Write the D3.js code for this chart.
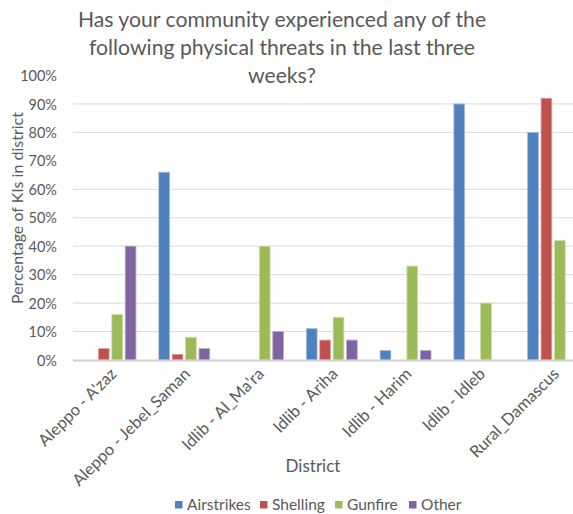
<!DOCTYPE html>
<html><head><meta charset="utf-8">
<script src="https://cdn.jsdelivr.net/npm/d3@7"></script>
<style>body{margin:0;background:#fff}svg{display:block}</style>
</head><body><svg id="c" width="573" height="514"></svg>
<script>
const districts = ["Aleppo - A'zaz","Aleppo - Jebel_Saman","Idlib - Al_Ma'ra","Idlib - Ariha","Idlib - Harim","Idlib - Idleb","Rural_Damascus"];
const seriesNames = ["Airstrikes","Shelling","Gunfire","Other"];
const airstrikes = [0, 0.66, 0, 0.11, 0.033, 0.90, 0.80];
const shelling   = [0.04, 0.02, 0, 0.07, 0, 0, 0.92];
const gunfire    = [0.16, 0.08, 0.40, 0.15, 0.33, 0.20, 0.42];
const other      = [0.40, 0.04, 0.10, 0.07, 0.033, 0, 0];
const yTicks = [0,0.1,0.2,0.3,0.4,0.5,0.6,0.7,0.8,0.9,1.0];
const gridValues = [0.1,0.2,0.3,0.4,0.5,0.6,0.8,0.9];
const titleLines = ["Has your community experienced any of the","following physical threats in the last three","weeks?"];
const colors = ["#4F81BD","#C0504D","#9BBB59","#8064A2"];
const strokes = ["#9DB9DC","#DDA09E","#CBDDAA","#B8A8CD"];
const values = [airstrikes, shelling, gunfire, other];

const svg = d3.select("#c");
const font = "Lato, 'Open Sans', sans-serif";
const txt = "#595959";

const x0 = d3.scaleBand().domain(districts).range([73.6, 590]).paddingInner(0.31).paddingOuter(0.155);
const x1 = d3.scaleBand().domain(seriesNames).range([0, x0.bandwidth()]).paddingInner(0.2);
const y = d3.scaleLinear().domain([0,1]).range([360, 75.5]);

// title
svg.append("g").selectAll("text").data(titleLines).join("text")
  .attr("x", 282).attr("y", (d,i)=>27+i*28).attr("text-anchor","middle")
  .attr("font-family", font).attr("font-size", 21.2).attr("fill", txt).text(d=>d);

// gridlines
svg.append("g").selectAll("line").data(gridValues).join("line")
  .attr("x1", 73).attr("x2", 573).attr("y1", d=>y(d)).attr("y2", d=>y(d))
  .attr("stroke", "#D9D9D9").attr("stroke-width", 1);

// y axis labels
const yAxis = d3.axisLeft(y).tickValues(yTicks).tickFormat(d3.format(".0%")).tickSize(0).tickPadding(0);
const yg = svg.append("g").attr("transform","translate(57,0)").call(yAxis);
yg.select(".domain").remove();
yg.selectAll("text").attr("font-family", font).attr("font-size", 14.5).attr("fill", txt).attr("dy","0.35em");

// bars
const groups = svg.append("g").selectAll("g").data(districts).join("g")
  .attr("transform", d=>`translate(${x0(d)},0)`);
groups.selectAll("rect").data((d,i)=>seriesNames.map((s,j)=>({s, j, v: values[j][i]})).filter(e=>e.v>0)).join("rect")
  .attr("x", e=>x1(e.s)).attr("width", x1.bandwidth())
  .attr("y", e=>y(e.v)).attr("height", e=>y(0)-y(e.v))
  .attr("fill", e=>colors[e.j]).attr("stroke", e=>strokes[e.j]).attr("stroke-width", 0.8);

// baseline
svg.append("line").attr("x1",73).attr("x2",573).attr("y1",y(0)+0.5).attr("y2",y(0)+0.5)
  .attr("stroke","#D0D0D0").attr("stroke-width",2);

// x labels
const xAxis = d3.axisBottom(x0).tickSize(0).tickPadding(0);
const xg = svg.append("g").attr("transform",`translate(0,${y(0)})`).call(xAxis);
xg.select(".domain").remove();
xg.selectAll("text").attr("font-family", font).attr("font-size", 16.5).attr("fill", txt)
  .attr("text-anchor","end").attr("dy",null).attr("y",null)
  .attr("transform","translate(7,15) rotate(-45)");

// axis titles
svg.append("text").attr("transform","translate(23,208) rotate(-90)").attr("text-anchor","middle")
  .attr("font-family", font).attr("font-size", 16).attr("fill", txt).text("Percentage of KIs in district");
svg.append("text").attr("x",313).attr("y",472).attr("text-anchor","middle")
  .attr("font-family", font).attr("font-size", 17).attr("fill", txt).text("District");

// legend
const legX = [175, 260, 335, 409];
const lg = svg.append("g").selectAll("g").data(seriesNames).join("g")
  .attr("transform",(d,i)=>`translate(${legX[i]},501)`);
lg.append("rect").attr("width",7.5).attr("height",7.5).attr("fill",(d,i)=>colors[i]);
lg.append("text").attr("x",12).attr("y",9).attr("font-family", font).attr("font-size",15.5).attr("fill",txt).text(d=>d);
</script></body></html>
